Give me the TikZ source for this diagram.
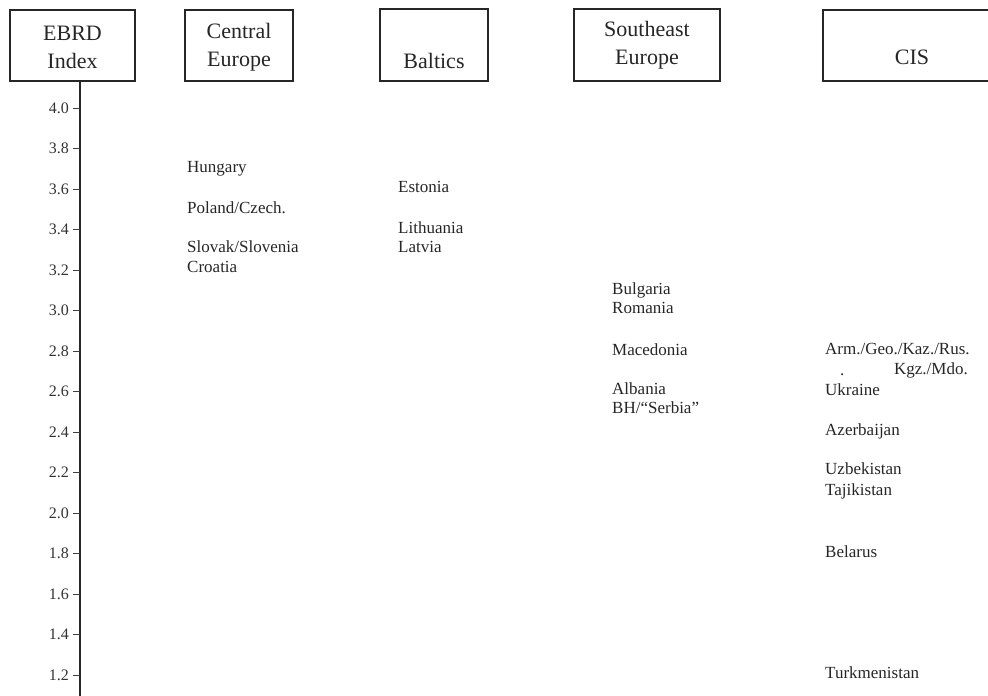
\documentclass[tikz,border=0pt]{standalone}
\usepackage{fontspec}
\setmainfont{Liberation Serif}
\begin{document}
\begin{tikzpicture}[x=1pt,y=-1pt,
  catbox/.style={draw=black!85, line width=1.4pt, inner sep=0pt},
  cattext/.style={font=\fontsize{22}{28}\selectfont, text=black!85, align=center, inner sep=0pt},
  ctry/.style={font=\fontsize{17}{20}\selectfont, text=black!85, anchor=west, inner sep=0pt, text height=0.7em, text depth=0.2em, yshift=-2.5pt},
  ticklab/.style={font=\fontsize{16}{20}\selectfont, text=black!80, anchor=east, inner sep=0pt, text height=0.7em, text depth=0.2em, yshift=-2.5pt},
  axisline/.style={draw=black!85, line width=1.5pt},
  tickline/.style={draw=black!75, line width=0.9pt}]
\useasboundingbox (0,0) rectangle (988,696);

% header boxes
\node[catbox, minimum width=125pt, minimum height=71pt] (ebrd) at (72.5,45.5) {};
\node[cattext] (ebrdt) at (72.5,47.5) {EBRD\\Index};
\node[catbox, minimum width=108pt, minimum height=71pt] (ce) at (239,45.5) {};
\node[cattext] (cet) at (239,47.5) {Central\\Europe};
\node[catbox, minimum width=108pt, minimum height=72pt] (balt) at (434,45) {};
\node[cattext] (baltt) at (434,61) {Baltics};
\node[catbox, minimum width=146pt, minimum height=72pt] (see) at (647,45) {};
\node[cattext] (seet) at (647,45.5) {Southeast\\Europe};
\node[catbox, minimum width=178pt, minimum height=71pt] (cis) at (912,45.5) {};
\node[cattext] (cist) at (912,57) {CIS};

% axis
\coordinate (axtop) at (80,81);
\coordinate (axbot) at (80,696);
\draw[axisline] (axtop) -- (axbot);
\foreach \v/\lab [count=\i] in {4.0/4.0,3.8/3.8,3.6/3.6,3.4/3.4,3.2/3.2,3.0/3.0,2.8/2.8,2.6/2.6,2.4/2.4,2.2/2.2,2.0/2.0,1.8/1.8,1.6/1.6,1.4/1.4,1.2/1.2}{
  \pgfmathsetmacro{\yy}{108+(4.0-\v)*202.5}
  \coordinate (tk\i) at (73,\yy);
  \coordinate (ta\i) at (80,\yy);
  \draw[tickline] (tk\i) -- (ta\i);
  \node[ticklab] (tl\i) at (69,\yy) {\lab};
}

% Central Europe
\node[ctry] (hun) at (187,167) {Hungary};
\node[ctry] (pol) at (187,208) {Poland/Czech.};
\node[ctry] (slo) at (187,247) {Slovak/Slovenia};
\node[ctry] (cro) at (187,267) {Croatia};

% Baltics
\node[ctry] (est) at (398,187) {Estonia};
\node[ctry] (lit) at (398,228) {Lithuania};
\node[ctry] (lat) at (398,247) {Latvia};

% Southeast Europe
\node[ctry] (bul) at (612,289) {Bulgaria};
\node[ctry] (rom) at (612,308) {Romania};
\node[ctry] (mac) at (612,350) {Macedonia};
\node[ctry] (alb) at (612,389) {Albania};
\node[ctry] (bh) at (612,408) {BH/“Serbia”};

% CIS
\node[ctry] (arm) at (825,349) {Arm./Geo./Kaz./Rus.};
\node[ctry] (dot) at (840,370) {.};
\node[ctry, anchor=east] (kgz) at (968,369) {Kgz./Mdo.};
\node[ctry] (ukr) at (825,390) {Ukraine};
\node[ctry] (aze) at (825,430) {Azerbaijan};
\node[ctry] (uzb) at (825,469) {Uzbekistan};
\node[ctry] (taj) at (825,490) {Tajikistan};
\node[ctry] (bel) at (825,552) {Belarus};
\node[ctry] (tur) at (825,673) {Turkmenistan};
\end{tikzpicture}
\end{document}
